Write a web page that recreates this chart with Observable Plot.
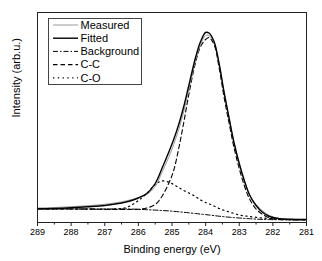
<!DOCTYPE html>
<html>
<head>
<meta charset="utf-8">
<script src="https://cdn.jsdelivr.net/npm/d3@7"></script>
<script src="https://cdn.jsdelivr.net/npm/@observablehq/plot@0.6"></script>
<style>
  html, body { margin: 0; padding: 0; background: #fff; }
  #chart svg { display: block; }
</style>
</head>
<body>
<div id="chart"></div>
<script>
// Binding energy grid (eV)
const energy = [289, 288.5, 288, 287.5, 287, 286.5, 286.25, 286, 285.75, 285.5, 285.3, 285.1, 284.95, 284.8, 284.65, 284.5, 284.3, 284.15, 284.0, 283.9, 283.75, 283.6, 283.45, 283.3, 283.15, 283.0, 282.85, 282.7, 282.5, 282.3, 282.1, 281.8, 281.5, 281.0];

// Intensities (arb. u.)
const measured = [14.5, 15.0, 15.8, 16.8, 18.2, 20.7, 22.5, 25, 28, 36, 50, 65, 78, 93, 111, 133, 162, 178, 187, 187, 180, 159, 130, 104, 79, 59, 42, 28.5, 18, 11.5, 7, 4, 3.4, 3.0];
const fitted = [13.7, 14.0, 14.7, 15.7, 17.0, 19.5, 21.5, 24.5, 29, 39, 54, 70, 83, 98, 116, 137, 165, 181, 190, 189.5, 181, 159, 130, 104, 79, 59, 42, 28, 17, 10, 6, 3.7, 3.2, 3.0];
const background = [13.7, 13.7, 13.6, 13.6, 13.5, 13.6, 13.5, 13.2, 12.8, 12.4, 12, 11.6, 11.2, 10.7, 10.2, 9.7, 9, 8.4, 7.9, 7.5, 6.9, 6.3, 5.8, 5.3, 4.9, 4.5, 4.1, 3.8, 3.4, 3.1, 2.9, 2.8, 2.7, 2.7];
const cc = [13.7, 13.6, 13.5, 13.4, 13.2, 13, 13, 13.2, 14.5, 18, 26, 39, 52, 74, 100, 128, 160, 176, 183, 185, 178, 155, 125, 99, 74, 54, 37, 24, 13.5, 8, 4.5, 3, 2.7, 2.7];
const co = [13.7, 13.6, 13.5, 13.4, 13.2, 14, 16.5, 22, 29, 38, 41.5, 40.5, 38, 35, 32, 29.5, 26, 22.5, 20, 18.7, 16.5, 14, 12.2, 10.5, 9, 7.5, 6.7, 6, 5.2, 4.5, 3.9, 3.3, 2.9, 2.7];

const seriesNames = ["Measured", "Fitted", "Background", "C-C", "C-O"];
const majorTicks = [289, 288, 287, 286, 285, 284, 283, 282, 281];
const minorTicks = [288.5, 287.5, 286.5, 285.5, 284.5, 283.5, 282.5, 281.5];
const xLabel = "Binding energy (eV)";
const yLabel = "Intensity (arb.u.)";

const styles = {
  "Measured":   {stroke: "#9a9a9a", strokeWidth: 1},
  "Fitted":     {stroke: "#000", strokeWidth: 1.4},
  "Background": {stroke: "#000", strokeWidth: 1, strokeDasharray: "5,2,1.5,2"},
  "C-C":        {stroke: "#000", strokeWidth: 1.1, strokeDasharray: "4.5,3"},
  "C-O":        {stroke: "#000", strokeWidth: 1.2, strokeDasharray: "1.3,3.5"}
};
const values = {"Measured": measured, "Fitted": fitted, "Background": background, "C-C": cc, "C-O": co};
const rowsFor = name => energy.map((e, i) => ({e, v: values[name][i]}));
const drawOrder = ["Background", "C-O", "C-C", "Measured", "Fitted"];

const font = "'Liberation Sans', Arial, sans-serif";

const chart = Plot.plot({
  width: 322,
  height: 261,
  marginLeft: 37,
  marginRight: 16,
  marginTop: 12,
  marginBottom: 39,
  style: {fontFamily: font, background: "#fff", color: "#000"},
  x: {domain: [289, 281], axis: null},
  y: {domain: [0, 210], axis: null},
  marks: [
    ...drawOrder.map(name => Plot.line(rowsFor(name), {x: "e", y: "v", curve: "catmull-rom", ...styles[name]})),
    Plot.frame({stroke: "#222", strokeWidth: 1}),
    Plot.axisX({ticks: majorTicks, tickSize: 4, tickPadding: 2.5, tickFormat: d => String(d), fontSize: 9, label: null, stroke: "#222"}),
    Plot.axisX({ticks: minorTicks, tickSize: 2.5, tickFormat: () => "", label: null, stroke: "#222"}),
    Plot.text([xLabel], {frameAnchor: "bottom", dy: 30, fontSize: 11, text: d => d, fill: "#000"}),
    Plot.text([yLabel], {frameAnchor: "left", dx: -21, rotate: -90, fontSize: 11, text: d => d, fill: "#000"})
  ]
});

document.getElementById("chart").appendChild(chart);

// Legend
const svg = d3.select(chart);
const lg = svg.append("g")
  .attr("font-family", font).attr("font-size", 11)
  .attr("text-anchor", "start");
lg.append("rect")
  .attr("x", 48.5).attr("y", 18.5).attr("width", 93).attr("height", 66)
  .attr("fill", "#fff").attr("stroke", "#444").attr("stroke-width", 1);
seriesNames.forEach((name, i) => {
  const y = 25 + i * 13.2;
  const s = styles[name];
  lg.append("line")
    .attr("x1", 53).attr("x2", 78).attr("y1", y).attr("y2", y)
    .attr("stroke", s.stroke).attr("stroke-width", s.strokeWidth)
    .attr("stroke-dasharray", s.strokeDasharray || null);
  lg.append("text")
    .attr("x", 80.5).attr("y", y).attr("dy", "0.35em")
    .attr("fill", "#000").attr("text-anchor", "start")
    .text(name);
});
</script>
</body>
</html>
